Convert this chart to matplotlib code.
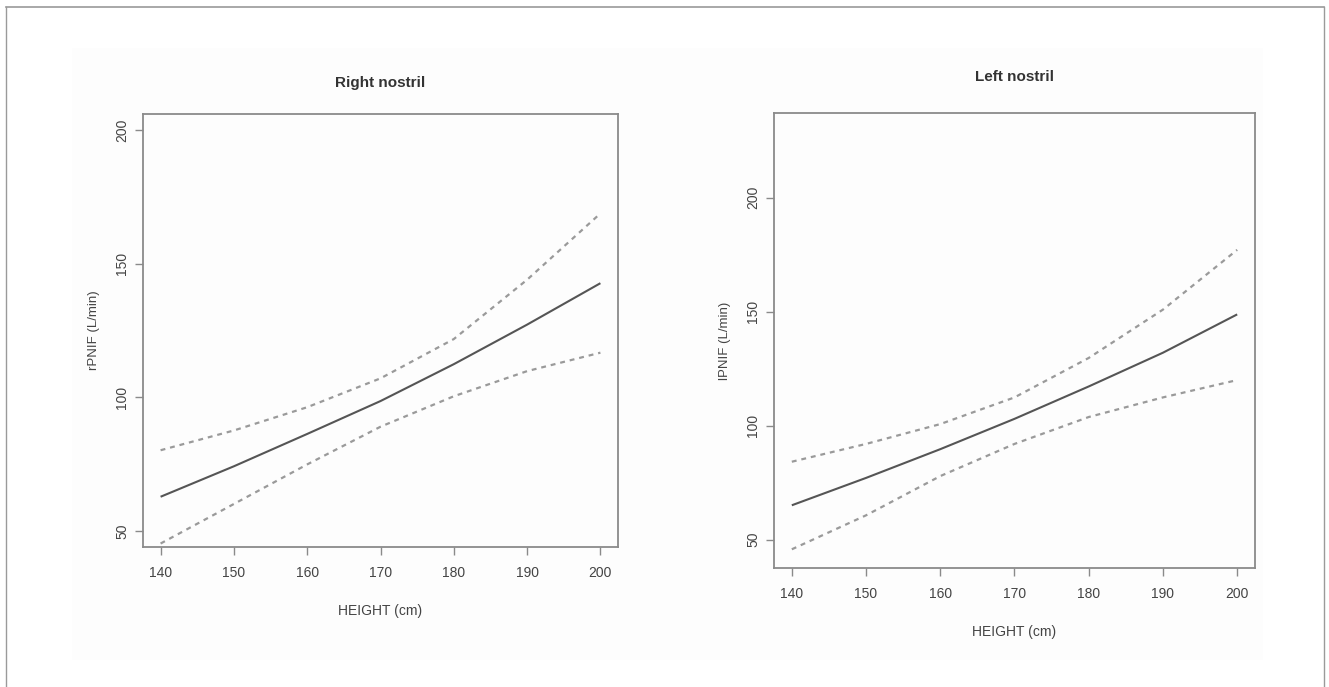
import numpy as np
import matplotlib.pyplot as plt
import matplotlib as mpl
from matplotlib.lines import Line2D
from matplotlib.patches import Rectangle

# values (height in cm -> PNIF in L/min)
height = [140, 150, 160, 170, 180, 190, 200]

right_fit = [62.8, 74.2, 86.3, 98.6, 112.4, 127.2, 142.7]
right_upper = [80.2, 87.6, 96.3, 107.1, 121.8, 144.0, 168.8]
right_lower = [45.3, 60.1, 74.9, 89.0, 100.4, 109.8, 116.7]

left_fit = [65.1, 77.1, 89.7, 103.0, 117.2, 132.0, 148.8]
left_upper = [84.2, 92.0, 100.7, 112.4, 129.7, 150.9, 177.1]
left_lower = [45.8, 60.7, 77.9, 92.0, 103.8, 112.4, 120.0]

x_ticks = [140, 150, 160, 170, 180, 190, 200]
y_ticks = [50, 100, 150, 200]

mpl.rcParams["font.family"] = ["Liberation Sans", "DejaVu Sans"]

W, H = 1329, 687
fig = plt.figure(figsize=(W / 100, H / 100), dpi=100)

# outer frame (top, left, right) and faint panel background
fig.add_artist(Line2D([6 / W, 1324 / W], [1 - 7 / H, 1 - 7 / H], color="#9a9a9a", lw=1.2))
fig.add_artist(Line2D([6 / W, 6 / W], [0, 1 - 7 / H], color="#9a9a9a", lw=1.0))
fig.add_artist(Line2D([1324 / W, 1324 / W], [0, 1 - 7 / H], color="#9a9a9a", lw=1.0))
fig.add_artist(Rectangle((72 / W, 1 - 660 / H), (1263 - 72) / W, (660 - 48) / H,
                         transform=fig.transFigure, facecolor="#fdfdfd", edgecolor="none", zorder=-5))

line_col = "#555555"
dash_col = "#9a9a9a"
frame_col = "#8a8a8a"
text_col = "#444444"


def make_panel(rect, fit, upper, lower, ylim, title, ylabel, title_y):
    ax = fig.add_axes(rect)
    ax.set_facecolor("none")
    ax.plot(height, fit, color=line_col, lw=1.5, solid_capstyle="butt")
    ax.plot(height, upper, color=dash_col, lw=1.6, linestyle=(0, (2.2, 2.2)))
    ax.plot(height, lower, color=dash_col, lw=1.6, linestyle=(0, (2.2, 2.2)))
    ax.set_xlim(137.6, 202.4)
    ax.set_ylim(*ylim)
    ax.set_xticks(x_ticks)
    ax.set_yticks(y_ticks)
    ax.tick_params(direction="out", length=6, width=1.0, color=frame_col,
                   labelsize=10, labelcolor=text_col)
    ax.tick_params(axis="x", pad=8)
    ax.tick_params(axis="y", pad=4)
    for lab in ax.get_yticklabels():
        lab.set_rotation(90)
        lab.set_va("center")
    for sp in ax.spines.values():
        sp.set_color(frame_col)
        sp.set_linewidth(1.3)
    ax.set_xlabel("HEIGHT (cm)", fontsize=10, color=text_col, labelpad=17)
    ax.set_ylabel(ylabel, fontsize=9.5, color=text_col, labelpad=11)
    x0 = rect[0] + rect[2] / 2
    fig.text(x0, title_y, title, ha="center", va="center", fontsize=11,
             fontweight="bold", color="#333333")
    return ax


make_panel([143 / W, 1 - 547 / H, 475 / W, 433 / H], right_fit, right_upper, right_lower,
           (44, 206), "Right nostril", "rPNIF (L/min)", 1 - 83 / H)
make_panel([774 / W, 1 - 568 / H, 481 / W, 455 / H], left_fit, left_upper, left_lower,
           (37.6, 237.1), "Left nostril", "lPNIF (L/min)", 1 - 77 / H)

fig.savefig("out.png", dpi=100, facecolor="white")
